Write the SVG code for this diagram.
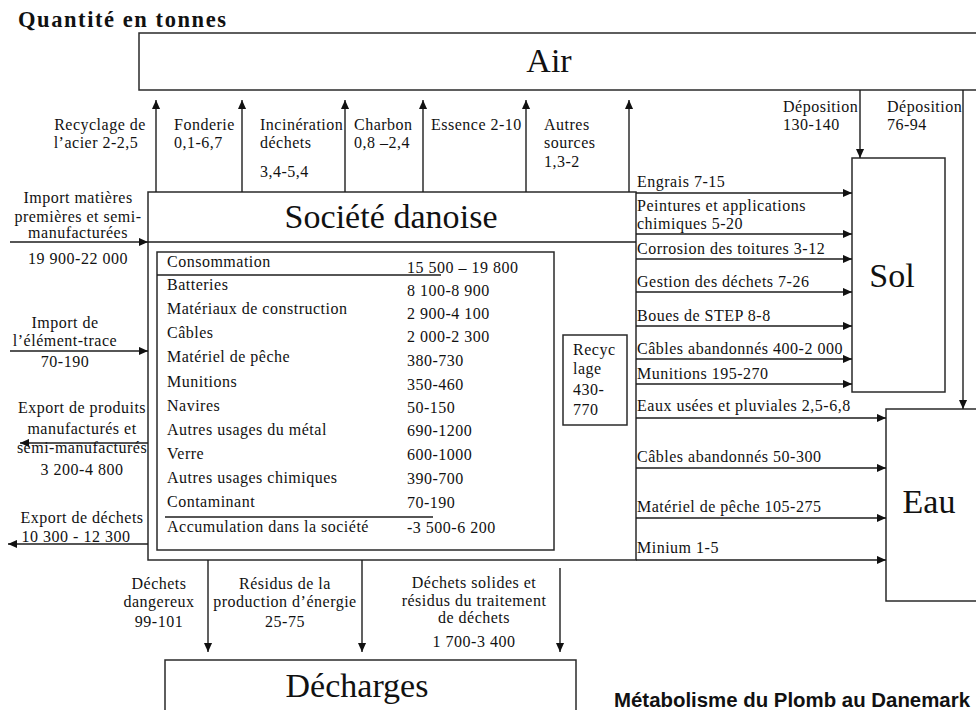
<svg xmlns="http://www.w3.org/2000/svg" width="976" height="710" viewBox="0 0 976 710">
<style>
  .box{fill:#fff;stroke:#2a2a2a;stroke-width:1.5}
  .ln{fill:none;stroke:#1e1e1e;stroke-width:1.4}
  .arr{fill:none;stroke:#1e1e1e;stroke-width:1.4;marker-end:url(#ah)}
  .t{font-family:"Liberation Serif","Times New Roman",serif;font-size:16px;letter-spacing:0.5px;fill:#111}
  .m{text-anchor:middle}
  .big{font-family:"Liberation Serif","Times New Roman",serif;font-size:34px;fill:#111;text-anchor:middle}
</style>
<defs>
  <marker id="ah" viewBox="0 0 10 10" refX="10" refY="5" markerWidth="9" markerHeight="9" markerUnits="userSpaceOnUse" orient="auto">
    <path d="M0,0.5 L10,5 L0,9.5 z" fill="#111"/>
  </marker>
</defs>
<rect width="976" height="710" fill="#fff"/>

<text x="18" y="27" font-family="'Liberation Serif','Times New Roman',serif" font-weight="bold" font-size="22.5" textLength="208" lengthAdjust="spacing" fill="#111">Quantité en tonnes</text>

<g id="air">
  <rect class="box" x="139" y="33" width="860" height="57"/>
  <text class="big" x="549" y="72">Air</text>
</g>

<g id="societe">
  <rect class="box" x="148" y="192" width="488" height="368"/>
  <line class="ln" x1="148" y1="242" x2="636" y2="242"/>
  <text class="big" x="391" y="228" textLength="213" lengthAdjust="spacing">Société danoise</text>
</g>

<g id="consommation">
  <rect class="box" x="157" y="252" width="397" height="298"/>
  <line class="ln" x1="157" y1="275" x2="441" y2="275"/>
  <line class="ln" x1="165" y1="517" x2="433" y2="517"/>
  <text class="t" x="167" y="267">Consommation</text>
  <text class="t" x="407" y="273">15 500 – 19 800</text>
  <text class="t" x="167" y="290">Batteries</text>
  <text class="t" x="407" y="296">8 100-8 900</text>
  <text class="t" x="167" y="314">Matériaux de construction</text>
  <text class="t" x="407" y="319">2 900-4 100</text>
  <text class="t" x="167" y="338">Câbles</text>
  <text class="t" x="407" y="342">2 000-2 300</text>
  <text class="t" x="167" y="362">Matériel de pêche</text>
  <text class="t" x="407" y="366">380-730</text>
  <text class="t" x="167" y="387">Munitions</text>
  <text class="t" x="407" y="390">350-460</text>
  <text class="t" x="167" y="411">Navires</text>
  <text class="t" x="407" y="413">50-150</text>
  <text class="t" x="167" y="435">Autres usages du métal</text>
  <text class="t" x="407" y="436">690-1200</text>
  <text class="t" x="167" y="459">Verre</text>
  <text class="t" x="407" y="460">600-1000</text>
  <text class="t" x="167" y="483">Autres usages chimiques</text>
  <text class="t" x="407" y="484">390-700</text>
  <text class="t" x="167" y="507">Contaminant</text>
  <text class="t" x="407" y="508">70-190</text>
  <text class="t" x="167" y="532">Accumulation dans la société</text>
  <text class="t" x="407" y="533">-3 500-6 200</text>
</g>

<g id="recyclage">
  <rect class="box" x="563" y="335" width="64" height="90"/>
  <text class="t" x="573" y="355">Recyc</text>
  <text class="t" x="573" y="374">lage</text>
  <text class="t" x="573" y="395">430-</text>
  <text class="t" x="573" y="415">770</text>
</g>

<g id="sol">
  <rect class="box" x="852" y="158" width="93" height="234"/>
  <text class="big" x="892" y="287">Sol</text>
</g>

<g id="eau">
  <rect class="box" x="886" y="409" width="110" height="192"/>
  <text class="big" x="929" y="513">Eau</text>
</g>

<g id="decharges">
  <rect class="box" x="165" y="660" width="411" height="60"/>
  <text class="big" x="357" y="697">Décharges</text>
</g>

<g id="connectors">
  <line class="arr" x1="156" y1="192" x2="156" y2="100"/>
  <line class="arr" x1="242" y1="192" x2="242" y2="100"/>
  <line class="arr" x1="345" y1="192" x2="345" y2="100"/>
  <line class="arr" x1="423" y1="192" x2="423" y2="100"/>
  <line class="arr" x1="526" y1="192" x2="526" y2="100"/>
  <line class="arr" x1="629" y1="192" x2="629" y2="100"/>
  <line class="arr" x1="860" y1="90" x2="860" y2="158"/>
  <line class="arr" x1="963" y1="90" x2="963" y2="409"/>
  <line class="arr" x1="636" y1="193" x2="852" y2="193"/>
  <line class="arr" x1="636" y1="234" x2="852" y2="234"/>
  <line class="arr" x1="636" y1="259" x2="852" y2="259"/>
  <line class="arr" x1="636" y1="292" x2="852" y2="292"/>
  <line class="arr" x1="636" y1="326" x2="852" y2="326"/>
  <line class="arr" x1="636" y1="359" x2="852" y2="359"/>
  <line class="arr" x1="636" y1="384" x2="852" y2="384"/>
  <line class="arr" x1="636" y1="418" x2="886" y2="418"/>
  <line class="arr" x1="636" y1="468" x2="886" y2="468"/>
  <line class="arr" x1="636" y1="518" x2="886" y2="518"/>
  <line class="arr" x1="636" y1="560" x2="886" y2="560"/>
  <line class="arr" x1="10" y1="242" x2="148" y2="242"/>
  <line class="arr" x1="10" y1="351" x2="148" y2="351"/>
  <line class="arr" x1="148" y1="443" x2="20" y2="443"/>
  <line class="arr" x1="148" y1="544" x2="8" y2="544"/>
  <line class="arr" x1="208" y1="560" x2="208" y2="652"/>
  <line class="arr" x1="362" y1="560" x2="362" y2="652"/>
  <line class="arr" x1="560" y1="568" x2="560" y2="652"/>
</g>

<g id="connector-labels">
  <text class="t m" x="100" y="130">Recyclage de</text>
  <text class="t m" x="96" y="148">l’acier 2-2,5</text>
  <text class="t" x="174" y="130">Fonderie</text>
  <text class="t" x="174" y="148">0,1-6,7</text>
  <text class="t" x="260" y="130">Incinération</text>
  <text class="t" x="260" y="148">déchets</text>
  <text class="t" x="260" y="177">3,4-5,4</text>
  <text class="t" x="354" y="130">Charbon</text>
  <text class="t" x="354" y="148">0,8 –2,4</text>
  <text class="t" x="431" y="130">Essence 2-10</text>
  <text class="t" x="544" y="130">Autres</text>
  <text class="t" x="544" y="148">sources</text>
  <text class="t" x="544" y="167">1,3-2</text>

  <text class="t" x="783" y="112">Déposition</text>
  <text class="t" x="783" y="130">130-140</text>
  <text class="t" x="887" y="112">Déposition</text>
  <text class="t" x="887" y="130">76-94</text>

  <text class="t" x="637" y="187">Engrais 7-15</text>
  <text class="t" x="637" y="211">Peintures et applications</text>
  <text class="t" x="637" y="229">chimiques 5-20</text>
  <text class="t" x="637" y="254">Corrosion des toitures 3-12</text>
  <text class="t" x="637" y="287">Gestion des déchets 7-26</text>
  <text class="t" x="637" y="321">Boues de STEP 8-8</text>
  <text class="t" x="637" y="354">Câbles abandonnés 400-2 000</text>
  <text class="t" x="637" y="379">Munitions 195-270</text>
  <text class="t" x="637" y="411">Eaux usées et pluviales 2,5-6,8</text>
  <text class="t" x="637" y="462">Câbles abandonnés 50-300</text>
  <text class="t" x="637" y="512">Matériel de pêche 105-275</text>
  <text class="t" x="637" y="553">Minium 1-5</text>

  <text class="t m" x="78" y="203">Import matières</text>
  <text class="t m" x="78" y="222">premières et semi-</text>
  <text class="t m" x="78" y="238">manufacturées</text>
  <text class="t m" x="78" y="264">19 900-22 000</text>
  <text class="t m" x="65" y="328">Import de</text>
  <text class="t m" x="65" y="346">l’élément-trace</text>
  <text class="t m" x="65" y="367">70-190</text>
  <text class="t m" x="82" y="413">Export de produits</text>
  <text class="t m" x="82" y="434">manufacturés et</text>
  <text class="t m" x="82" y="453">semi-manufacturés</text>
  <text class="t m" x="82" y="475">3 200-4 800</text>
  <text class="t m" x="82" y="523">Export de déchets</text>
  <text class="t m" x="76" y="542">10 300 - 12 300</text>

  <text class="t m" x="159" y="589">Déchets</text>
  <text class="t m" x="159" y="607">dangereux</text>
  <text class="t m" x="159" y="627">99-101</text>
  <text class="t m" x="285" y="589">Résidus de la</text>
  <text class="t m" x="285" y="607">production d’énergie</text>
  <text class="t m" x="285" y="627">25-75</text>
  <text class="t m" x="474" y="588">Déchets solides et</text>
  <text class="t m" x="474" y="606">résidus du traitement</text>
  <text class="t m" x="474" y="623">de déchets</text>
  <text class="t m" x="474" y="647">1 700-3 400</text>
</g>

<text x="614" y="707" textLength="356" lengthAdjust="spacingAndGlyphs" font-family="'Liberation Sans',Arial,sans-serif" font-weight="bold" font-size="20" fill="#111">Métabolisme du Plomb au Danemark</text>
</svg>
